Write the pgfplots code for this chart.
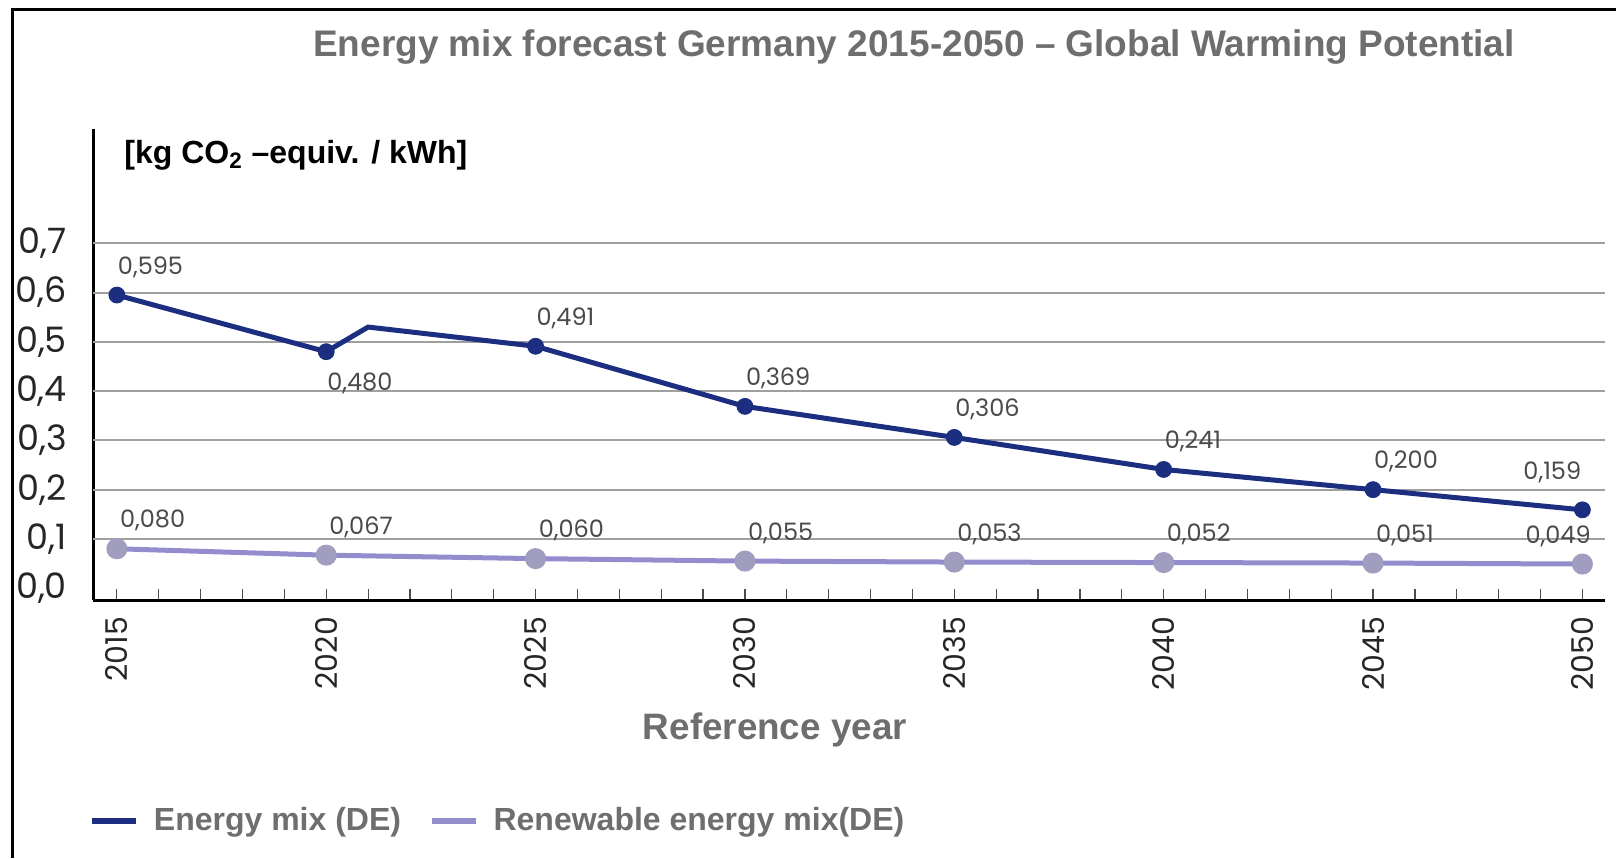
\documentclass[border=0pt]{standalone}
\usepackage{pgfplots}
\pgfplotsset{compat=1.18}
\usepackage{fontspec}
\setmainfont{Liberation Sans}
\newfontfamily\pop{Poppins}
\definecolor{navy}{HTML}{1B2E80}
\definecolor{lav}{HTML}{938CCD}
\definecolor{lavmark}{HTML}{A09DBF}
\definecolor{titlegray}{HTML}{6E6E6E}
\definecolor{labgray}{HTML}{4A4A4A}
\begin{document}
\begin{tikzpicture}
\useasboundingbox (0pt,0pt) rectangle (808pt,429pt);
\draw[line width=1.5pt] (6pt,0pt) -- (6pt,424pt) -- (808pt,424pt);
\node[font=\bfseries\fontsize{18.5}{18.5}\selectfont, text=titlegray] at (457pt,405.5pt) {Energy mix forecast Germany 2015-2050 – Global Warming Potential};
\begin{axis}[
  at={(46.5pt,129pt)}, anchor=south west,
  scale only axis, width=756pt, height=235.5pt,
  xmin=2014.43, xmax=2050.54, ymin=-0.024, ymax=0.932,
  axis x line=bottom, axis y line=left,
  axis line style={line width=1.5pt, -},
  tick align=inside,
  xtick={2015,2020,...,2050}, minor x tick num=4,
  major tick length=5.5pt, minor tick length=5.5pt,
  xtick style={draw=black!70, line width=0.6pt},
  ytick={0,0.1,0.2,0.3,0.4,0.5,0.6,0.7},
  yticklabels={{0,0},{0,1},{0,2},{0,3},{0,4},{0,5},{0,6},{0,7}},
  extra y ticks={0.1,0.2,0.3,0.4,0.5,0.6,0.7},
  extra y tick labels={,,,,,,},
  extra y tick style={grid=major},
  ytick style={draw=none},
  major grid style={draw=gray!75, line width=1pt},
  /pgf/number format/1000 sep={},
  /pgf/number format/assume math mode=true,
  yticklabel style={font=\pop\fontsize{17.5}{17.5}\selectfont, text=black!85, xshift=-9.5pt},
  xticklabel style={font=\pop\fontsize{15}{15}\selectfont, text=black!85, yshift=-5pt, rotate=90, anchor=east},
  xlabel={Reference year},
  xlabel style={font=\bfseries\fontsize{18.4}{18.4}\selectfont, text=titlegray, at={(0.451,0)}, anchor=center, yshift=-65pt},
  every node near coord/.append style={font=\pop\fontsize{12}{12}\selectfont, text=labgray, anchor=west, xshift=-3pt, yshift=14pt},
  legend style={at={(-0.0066,-0.469)}, anchor=west, draw=none, fill=none, legend columns=2,
    font=\bfseries\fontsize{16}{16}\selectfont, text=titlegray,
    /tikz/every even column/.append style={column sep=12pt}},
  legend image code/.code={\draw[#1, line width=3pt] (0pt,0pt) -- (22pt,0pt); \path (27.5pt,0pt);},
  clip=false,
]
\addplot[color=navy, line width=2.5pt, no marks] coordinates {
 (2015,0.595) (2020,0.480) (2021,0.530) (2025,0.491) (2030,0.369)
 (2035,0.306) (2040,0.241) (2045,0.200) (2050,0.159)};
\addlegendentry{Energy mix (DE)}
\addplot[forget plot, only marks, mark=*, mark size=4pt, color=navy,
  nodes near coords, point meta=explicit symbolic,
  coordinate style/.condition={\coordindex==1}{yshift=-30pt},
  coordinate style/.condition={\coordindex==7}{xshift=-30pt, yshift=4.5pt}]
 table[meta=lab] {
x y lab
2015 0.595 0,595
2020 0.480 0,480
2025 0.491 0,491
2030 0.369 0,369
2035 0.306 0,306
2040 0.241 0,241
2045 0.200 0,200
2050 0.159 0,159
};
\addplot[color=lav, line width=2.5pt, mark=*, mark size=4pt,
  mark options={fill=lavmark, draw=lavmark},
  nodes near coords, point meta=explicit symbolic,
  coordinate style/.condition={\coordindex==7}{xshift=-30pt}]
 table[meta=lab] {
x y lab
2015 0.080 0,080
2020 0.067 0,067
2025 0.060 0,060
2030 0.055 0,055
2035 0.053 0,053
2040 0.052 0,052
2045 0.051 0,051
2050 0.049 0,049
};
\addlegendentry{Renewable energy mix(DE)}
\node[anchor=west, font=\bfseries\fontsize{16}{16}\selectfont, inner sep=0pt] at (rel axis cs:0.0205,0.944) {[kg CO\textsubscript{2} –equiv. / kWh]};
\end{axis}
\end{tikzpicture}
\end{document}
